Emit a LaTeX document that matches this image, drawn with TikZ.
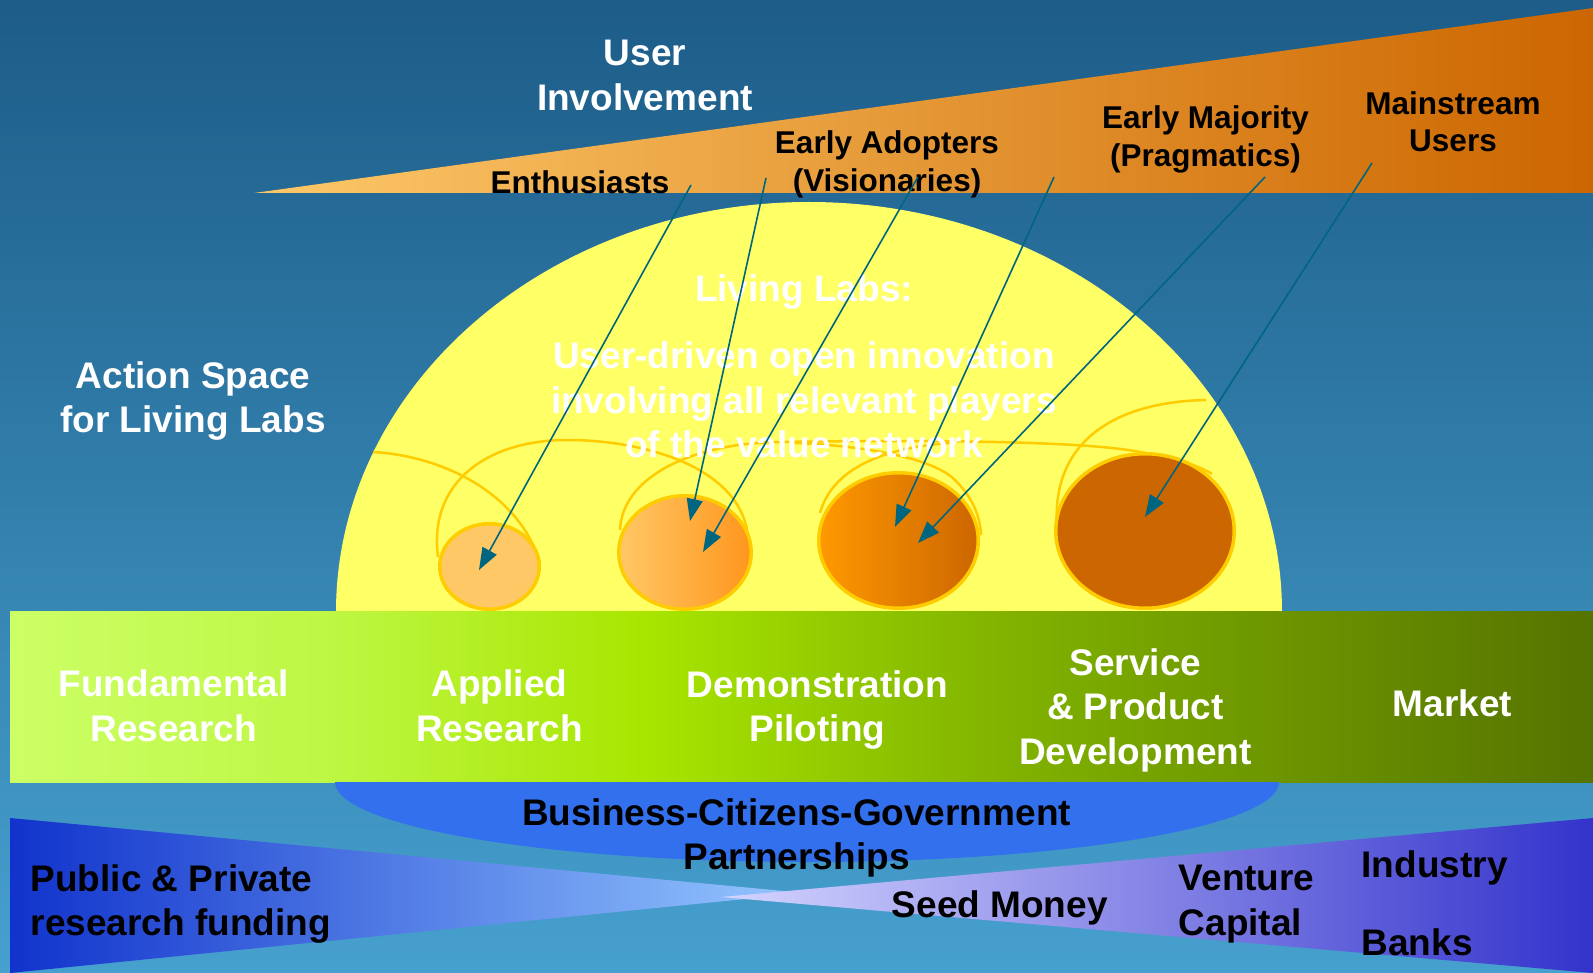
\documentclass[tikz,border=0pt]{standalone}
\usepackage{fontspec}
\setmainfont{Liberation Sans}
\usetikzlibrary{arrows.meta,shapes.geometric}
\definecolor{bgtop}{RGB}{29,92,136}
\definecolor{bgmid}{RGB}{44,124,172}
\definecolor{bgbot}{RGB}{70,160,206}
\definecolor{orA}{RGB}{253,200,106}
\definecolor{orB}{RGB}{230,158,78}
\definecolor{orC}{RGB}{204,102,0}
\definecolor{dome}{RGB}{255,255,102}
\definecolor{bandA}{RGB}{204,255,102}
\definecolor{bandB}{RGB}{190,247,68}
\definecolor{bandC}{RGB}{168,230,0}
\definecolor{bandD}{RGB}{130,180,0}
\definecolor{bandE}{RGB}{85,115,0}
\definecolor{pblue}{RGB}{51,112,238}
\definecolor{lwA}{RGB}{17,51,204}
\definecolor{lwB}{RGB}{150,200,255}
\definecolor{rwA}{RGB}{212,212,255}
\definecolor{rwB}{RGB}{51,51,204}
\definecolor{edgec}{RGB}{255,204,0}
\definecolor{bubA}{RGB}{255,200,102}
\definecolor{bubB}{RGB}{255,150,30}
\definecolor{bubC}{RGB}{255,153,0}
\definecolor{bubD}{RGB}{204,102,0}
\definecolor{arrc}{RGB}{0,102,128}
\pgfdeclarehorizontalshading{bandshade}{100bp}{color(0bp)=(bandA); color(25bp)=(bandA); color(35bp)=(bandB); color(45bp)=(bandC); color(56bp)=(bandD); color(75bp)=(bandE); color(100bp)=(bandE)}
\begin{document}
\begin{tikzpicture}[x=1pt,y=-1pt,
  traj/.style={draw=edgec, line width=2.5pt},
  bubble/.style={ellipse, draw=edgec, line width=3.5pt, inner sep=0pt, outer sep=0pt},
  arrowc/.style={draw=arrc, line width=1.6pt, -{Triangle[length=22pt,width=16pt]}},
  lbl/.style={font=\bfseries\fontsize{37}{44.5}\selectfont, align=center, inner sep=0pt},
  wlbl/.style={lbl, text=white},
  blbl/.style={lbl, text=black},
  slbl/.style={font=\bfseries\fontsize{31.5}{37.5}\selectfont, align=center, inner sep=0pt, text=black}]
\useasboundingbox (0,0) rectangle (1593,973);
% background
\shade[top color=bgtop, middle color=bgmid, bottom color=bgbot] (0,0) rectangle (1593,973);
% top wedge
\shade[left color=orA, middle color=orB, right color=orC] (254,193) -- (1593,8) -- (1593,193) -- cycle;
% dome
\fill[dome] (1282,612) arc[start angle=0, end angle=180, x radius=473pt, y radius=410pt] -- cycle;
% band
\shade[shading=bandshade] (10,611) rectangle (1593,782);
% partnership half ellipse
\fill[pblue] (1279,782) arc[start angle=0, end angle=-180, x radius=472pt, y radius=80pt] -- cycle;
% funding wedges
\shade[left color=lwA, right color=lwB] (10,818) -- (805,893) -- (10,973) -- cycle;
\shade[left color=rwA, right color=rwB] (721,897) -- (1593,818) -- (1593,973) -- cycle;
% trajectories
\draw[traj] (373,452) .. controls (445,456) and (520,495) .. (540,563);
\draw[traj] (438,557) .. controls (428,480) and (490,440) .. (567,440) .. controls (650,440) and (742,470) .. (748,537);
\draw[traj] (620,530) .. controls (622,478) and (690,443) .. (780,442) .. controls (900,440) and (1080,440) .. (1140,452) .. controls (1175,458) and (1200,466) .. (1212,474);
\draw[traj] (795,443) .. controls (850,445) and (930,455) .. (955,480) .. controls (972,497) and (980,515) .. (981,535);
\draw[traj] (820,513) .. controls (832,470) and (880,448) .. (950,443);
\draw[traj] (1057,525) .. controls (1052,445) and (1110,402) .. (1206,400);
% bubbles
\node[bubble, fill=bubA, minimum width=99.5pt, minimum height=85.5pt] (b1) at (489.5,566.5) {};
\node[bubble, left color=bubA, right color=bubB, minimum width=132.5pt, minimum height=113.5pt] (b2) at (685,552.5) {};
\node[bubble, left color=bubC, right color=bubD, minimum width=159.5pt, minimum height=135.5pt] (b3) at (898.5,540.5) {};
\node[bubble, fill=bubD, minimum width=178.5pt, minimum height=154.5pt] (b4) at (1145,531) {};
% top labels
\node[wlbl] (ui) at (645,75.5) {User\\Involvement};
\node[slbl] (en) at (580,182) {Enthusiasts};
\node[slbl] (ea) at (887,164.5) {Early Adopters\\(Visionaries)};
\node[slbl] (em) at (1205.5,139.5) {Early Majority\\(Pragmatics)};
\node[slbl] (mu) at (1453,121.5) {Mainstream\\Users};
\node[wlbl] (as) at (193,401) {Action Space\\for Living Labs};
\node[wlbl] (ll) at (804,292) {Living Labs:};
\node[wlbl] (ud) at (804,400) {User-driven open innovation\\involving all relevant players\\of the value network};
% band labels
\node[wlbl] (fr) at (173.7,706) {Fundamental\\Research};
\node[wlbl] (ar) at (499.4,706) {Applied\\Research};
\node[wlbl] (dp) at (817.4,710) {Demonstration\\Piloting};
\node[wlbl] (sp) at (1135.4,710) {Service\\\& Product\\Development};
\node[wlbl] (mk) at (1452.4,703) {Market};
% bottom labels
\node[blbl] (bp) at (796.5,838) {Business-Citizens-Government\\Partnerships};
\node[blbl, align=left, anchor=west] (pp) at (30.5,904) {Public \& Private\\research funding};
\node[blbl] (sm) at (999.7,908) {Seed Money};
\node[blbl, align=left, anchor=west] (vc) at (1178.6,904) {Venture\\Capital};
\node[blbl, anchor=west] (in) at (1361.4,868.3) {Industry};
\node[blbl, anchor=west] (bk) at (1361.4,942.6) {Banks};
% arrows
\coordinate (s1) at (691,185); \coordinate (e1) at (479,570);
\coordinate (s2) at (766,178); \coordinate (e2) at (690,521);
\coordinate (s3) at (918,177); \coordinate (e3) at (703,552);
\coordinate (s4) at (1054,177); \coordinate (e4) at (895,527);
\coordinate (s5) at (1265,177); \coordinate (e5) at (918,543);
\coordinate (s6) at (1372,163); \coordinate (e6) at (1145,517);
\draw[arrowc] (s1) -- (e1);
\draw[arrowc] (s2) -- (e2);
\draw[arrowc] (s3) -- (e3);
\draw[arrowc] (s4) -- (e4);
\draw[arrowc] (s5) -- (e5);
\draw[arrowc] (s6) -- (e6);
\end{tikzpicture}
\end{document}
